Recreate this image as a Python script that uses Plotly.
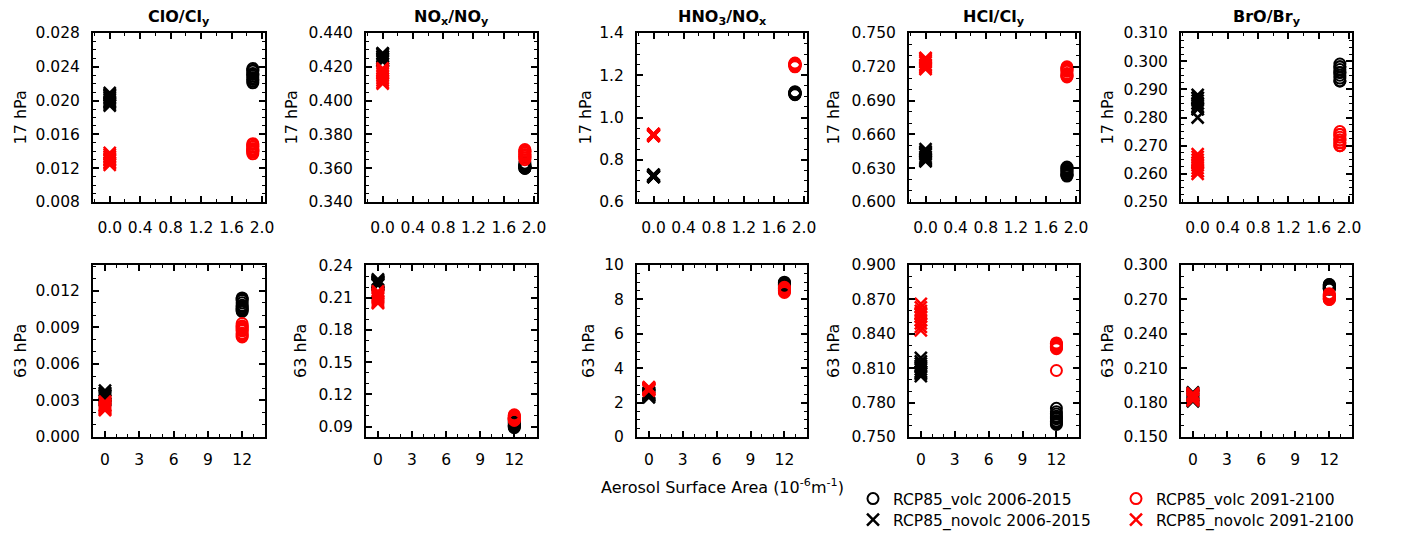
import plotly.graph_objects as go

W, H = 1402, 533
FONT = "DejaVu Sans"

# ---------------- data ----------------
series_keys = ["volc_2006", "novolc_2006", "volc_2091", "novolc_2091"]
series_labels = {
    "volc_2006": "RCP85_volc 2006-2015",
    "novolc_2006": "RCP85_novolc 2006-2015",
    "volc_2091": "RCP85_volc 2091-2100",
    "novolc_2091": "RCP85_novolc 2091-2100",
}
series_colors = {"volc_2006": "black", "novolc_2006": "black",
                 "volc_2091": "red", "novolc_2091": "red"}
series_symbols = {"volc_2006": "circle-open", "novolc_2006": "x-thin-open",
                  "volc_2091": "circle-open", "novolc_2091": "x-thin-open"}
# legend rows: circles in the first row, crosses in the second
series_legend = {"volc_2006": "legend", "volc_2091": "legend",
                 "novolc_2006": "legend2", "novolc_2091": "legend2"}

# aerosol surface area (1e-6 m^-1) for volcanic / non-volcanic runs
sad_17hPa = {"volc": 1.88, "novolc": 0.0}
sad_63hPa = {"volc": 12.0, "novolc": 0.0}

panel_titles = ["ClO/Cl<sub>y</sub>", "NO<sub>x</sub>/NO<sub>y</sub>",
                "HNO<sub>3</sub>/NO<sub>x</sub>", "HCl/Cl<sub>y</sub>",
                "BrO/Br<sub>y</sub>"]

clo_cly_17 = {
    "volc_2006":   [0.0232, 0.0225, 0.0238, 0.0221, 0.0229, 0.0235, 0.0223, 0.0231, 0.0227, 0.0236],
    "novolc_2006": [0.0204, 0.0199, 0.0207, 0.0196, 0.0201, 0.0209, 0.0194, 0.0203, 0.0198, 0.0206],
    "volc_2091":   [0.0143, 0.0139, 0.0148, 0.0141, 0.0146, 0.0137, 0.0145, 0.0142, 0.0149, 0.0140],
    "novolc_2091": [0.0131, 0.0127, 0.0136, 0.0124, 0.0133, 0.0129, 0.0138, 0.0126, 0.0134, 0.0130],
}
nox_noy_17 = {
    "volc_2006":   [0.361, 0.360, 0.362, 0.361, 0.360, 0.363, 0.361, 0.362, 0.360, 0.361],
    "novolc_2006": [0.426, 0.424, 0.428, 0.425, 0.423, 0.427, 0.425, 0.426, 0.424, 0.428],
    "volc_2091":   [0.368, 0.366, 0.370, 0.365, 0.369, 0.367, 0.371, 0.366, 0.368, 0.370],
    "novolc_2091": [0.415, 0.412, 0.418, 0.410, 0.416, 0.413, 0.417, 0.411, 0.414, 0.419],
}
hno3_nox_17 = {
    "volc_2006":   [1.115, 1.110, 1.120, 1.108, 1.118, 1.112, 1.122, 1.114, 1.110, 1.116],
    "novolc_2006": [0.720, 0.730, 0.720, 0.725, 0.718, 0.722, 0.728, 0.720, 0.724, 0.719],
    "volc_2091":   [1.250, 1.245, 1.255, 1.240, 1.252, 1.248, 1.258, 1.243, 1.250, 1.254],
    "novolc_2091": [0.915, 0.920, 0.912, 0.918, 0.922, 0.914, 0.919, 0.916, 0.921, 0.913],
}
hcl_cly_17 = {
    "volc_2006":   [0.627, 0.624, 0.630, 0.623, 0.628, 0.625, 0.629, 0.626, 0.631, 0.624],
    "novolc_2006": [0.642, 0.638, 0.645, 0.636, 0.640, 0.647, 0.637, 0.643, 0.639, 0.644],
    "volc_2091":   [0.716, 0.712, 0.719, 0.711, 0.714, 0.720, 0.713, 0.717, 0.712, 0.718],
    "novolc_2091": [0.724, 0.720, 0.727, 0.718, 0.722, 0.728, 0.719, 0.725, 0.721, 0.726],
}
bro_bry_17 = {
    "volc_2006":   [0.296, 0.293, 0.298, 0.294, 0.297, 0.295, 0.299, 0.293, 0.296, 0.298],
    "novolc_2006": [0.285, 0.283, 0.287, 0.280, 0.286, 0.284, 0.288, 0.283, 0.285, 0.287],
    "volc_2091":   [0.272, 0.270, 0.274, 0.271, 0.273, 0.275, 0.270, 0.272, 0.274, 0.271],
    "novolc_2091": [0.264, 0.261, 0.266, 0.260, 0.263, 0.265, 0.262, 0.267, 0.261, 0.264],
}
clo_cly_63 = {
    "volc_2006":   [0.0108, 0.0104, 0.0112, 0.0106, 0.0114, 0.0103, 0.0110, 0.0107, 0.0113, 0.0105],
    "novolc_2006": [0.0034, 0.0031, 0.0036, 0.0033, 0.0038, 0.0032, 0.0035, 0.0030, 0.0034, 0.0036],
    "volc_2091":   [0.0088, 0.0084, 0.0091, 0.0082, 0.0087, 0.0093, 0.0085, 0.0089, 0.0083, 0.0090],
    "novolc_2091": [0.0026, 0.0023, 0.0028, 0.0022, 0.0025, 0.0029, 0.0024, 0.0027, 0.0023, 0.0026],
}
nox_noy_63 = {
    "volc_2006":   [0.091, 0.089, 0.093, 0.090, 0.095, 0.092, 0.090, 0.094, 0.091, 0.097],
    "novolc_2006": [0.224, 0.222, 0.226, 0.223, 0.225, 0.222, 0.227, 0.224, 0.223, 0.225],
    "volc_2091":   [0.098, 0.096, 0.100, 0.097, 0.099, 0.096, 0.101, 0.098, 0.097, 0.100],
    "novolc_2091": [0.211, 0.207, 0.214, 0.205, 0.212, 0.209, 0.216, 0.206, 0.213, 0.210],
}
hno3_nox_63 = {
    "volc_2006":   [8.85, 8.75, 8.95, 8.80, 8.90, 8.70, 8.85, 9.00, 8.80, 8.90],
    "novolc_2006": [2.45, 2.35, 2.50, 2.40, 2.55, 2.30, 2.45, 2.50, 2.40, 2.60],
    "volc_2091":   [8.55, 8.45, 8.65, 8.50, 8.60, 8.40, 8.55, 8.70, 8.50, 8.60],
    "novolc_2091": [2.80, 2.75, 2.85, 2.70, 2.80, 2.90, 2.75, 2.85, 2.80, 2.75],
}
hcl_cly_63 = {
    "volc_2006":   [0.768, 0.763, 0.772, 0.761, 0.766, 0.775, 0.764, 0.770, 0.762, 0.767],
    "novolc_2006": [0.812, 0.806, 0.816, 0.803, 0.809, 0.819, 0.805, 0.811, 0.807, 0.814],
    "volc_2091":   [0.829, 0.831, 0.827, 0.832, 0.828, 0.830, 0.808, 0.829, 0.831, 0.828],
    "novolc_2091": [0.858, 0.852, 0.863, 0.846, 0.855, 0.866, 0.849, 0.860, 0.843, 0.857],
}
bro_bry_63 = {
    "volc_2006":   [0.281, 0.280, 0.283, 0.279, 0.282, 0.280, 0.282, 0.281, 0.279, 0.283],
    "novolc_2006": [0.186, 0.182, 0.189, 0.184, 0.187, 0.181, 0.185, 0.188, 0.183, 0.186],
    "volc_2091":   [0.273, 0.271, 0.275, 0.270, 0.272, 0.274, 0.271, 0.273, 0.270, 0.274],
    "novolc_2091": [0.185, 0.183, 0.187, 0.182, 0.186, 0.184, 0.188, 0.183, 0.185, 0.186],
}

panels_17 = [clo_cly_17, nox_noy_17, hno3_nox_17, hcl_cly_17, bro_bry_17]
panels_63 = [clo_cly_63, nox_noy_63, hno3_nox_63, hcl_cly_63, bro_bry_63]

# y axes: (range, first tick, dtick, minor dtick, format)
yaxes_17 = [([0.008, 0.028], 0.008, 0.004, 0.001, ".3f"),
            ([0.34, 0.44], 0.34, 0.02, 0.005, ".3f"),
            ([0.6, 1.4], 0.6, 0.2, 0.05, ".1f"),
            ([0.6, 0.75], 0.6, 0.03, 0.01, ".3f"),
            ([0.25, 0.31], 0.25, 0.01, 0.0025, ".3f")]
yaxes_63 = [([0.0, 0.0141], 0.0, 0.003, 0.001, ".3f"),
            ([0.0803, 0.2405], 0.09, 0.03, 0.01, ".2f"),
            ([0.0, 10.0], 0, 2, 0.5, "d"),
            ([0.75, 0.9], 0.75, 0.03, 0.01, ".3f"),
            ([0.15, 0.3], 0.15, 0.03, 0.01, ".3f")]

# ---------------- layout geometry (pixels) ----------------
col_px = [(93, 265), (366, 537), (637, 807), (909, 1079), (1181, 1352)]
row_px = [(33, 202), (265, 437)]
ylab_px = [[20, 291, 585, 833, 1107], [20, 300, 588, 833, 1107]]

fig = go.Figure()
layout = {}
annotations = []


def px_x(p):
    return p / W


def px_y(p):
    return 1 - p / H


k = 0
for r, (panels, yaxes, sad, pres) in enumerate(
        [(panels_17, yaxes_17, sad_17hPa, "17 hPa"),
         (panels_63, yaxes_63, sad_63hPa, "63 hPa")]):
    for c in range(5):
        k += 1
        xa = "x" if k == 1 else f"x{k}"
        ya = "y" if k == 1 else f"y{k}"
        data = panels[c]
        for key in series_keys:
            xval = sad["volc"] if key.startswith("volc") else sad["novolc"]
            yv = data[key]
            is_x = "x" in series_symbols[key]
            fig.add_trace(go.Scatter(
                x=[xval] * len(yv), y=yv, mode="markers",
                name=series_labels[key],
                legend=series_legend[key],
                showlegend=(k == 1),
                xaxis=xa, yaxis=ya,
                marker=dict(symbol=series_symbols[key],
                            size=12 if is_x else 11,
                            color=series_colors[key],
                            line=dict(color=series_colors[key],
                                      width=2.5 if is_x else 2)),
            ))
        common = dict(showline=True, linecolor="black", linewidth=2,
                      mirror="allticks", ticks="inside", ticklen=6,
                      tickwidth=1.5, tickcolor="black", showgrid=False,
                      zeroline=False,
                      tickfont=dict(family=FONT, size=15.5, color="black"))
        if r == 0:
            xr, xd, xm, xf = [-0.22, 2.04], 0.4, 0.2, ".1f"
        else:
            xr, xd, xm, xf = [-1.05, 14.0], 3, 1, "d"
        x0, x1 = col_px[c]
        yt, yb = row_px[r]
        layout[f"xaxis{k}"] = dict(
            common, domain=[px_x(x0), px_x(x1)], anchor=ya, range=xr,
            tick0=0, dtick=xd, tickformat=xf,
            ticklabelstandoff=10 if r == 0 else 7,
            minor=dict(ticks="inside", ticklen=3, tickwidth=1, tickcolor="black",
                       dtick=xm, tick0=0, showgrid=False))
        yr, y0, yd, ym, yf = yaxes[c]
        layout[f"yaxis{k}"] = dict(
            common, domain=[px_y(yb), px_y(yt)], anchor=xa, range=yr,
            tick0=y0, dtick=yd, tickformat=yf, ticklabelstandoff=8,
            minor=dict(ticks="inside", ticklen=3, tickwidth=1, tickcolor="black",
                       dtick=ym, tick0=y0, showgrid=False))
        annotations.append(dict(
            x=px_x(ylab_px[r][c]), y=px_y((yt + yb) / 2), xref="paper", yref="paper",
            text=pres, textangle=-90, showarrow=False, xanchor="center", yanchor="middle",
            font=dict(family=FONT, size=16, color="black")))
        if r == 0:
            annotations.append(dict(
                x=px_x((x0 + x1) / 2), y=px_y(17), xref="paper", yref="paper",
                text=f"<b>{panel_titles[c]}</b>", showarrow=False,
                xanchor="center", yanchor="middle",
                font=dict(family=FONT, size=16, color="black")))

annotations.append(dict(
    x=px_x(722), y=px_y(486), xref="paper", yref="paper",
    text="Aerosol Surface Area (10<sup>-6</sup>m<sup>-1</sup>)", showarrow=False,
    xanchor="center", yanchor="middle",
    font=dict(family=FONT, size=16, color="black")))

legend_common = dict(orientation="h", xanchor="left", yanchor="middle",
                     bgcolor="rgba(0,0,0,0)", entrywidth=218,
                     entrywidthmode="pixels",
                     font=dict(family=FONT, size=15.5, color="black"),
                     itemclick=False, itemdoubleclick=False)
fig.update_layout(
    width=W, height=H,
    margin=dict(l=0, r=0, t=0, b=0, autoexpand=False),
    paper_bgcolor="white", plot_bgcolor="white",
    font=dict(family=FONT, size=15, color="black"),
    annotations=annotations,
    legend=dict(legend_common, x=px_x(853), y=px_y(499)),
    legend2=dict(legend_common, x=px_x(853), y=px_y(520)),
    **layout,
)

fig.write_html("out.html")
